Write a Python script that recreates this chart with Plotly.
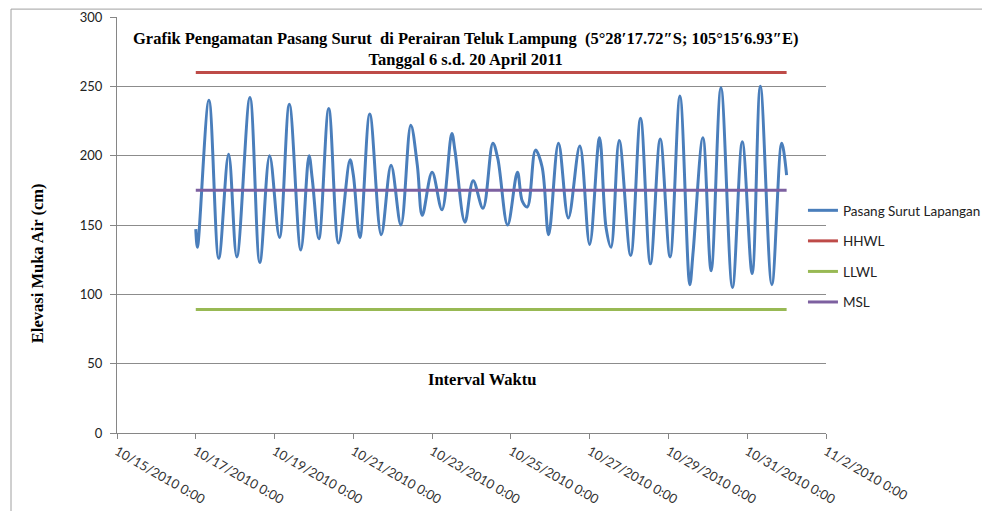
import pandas as pd
import plotly.graph_objects as go

# pengamatan pasang surut: jam sejak 10/17/2010 0:00 dan elevasi (cm), titik puncak/lembah
jam = [0, 1, 8, 14, 20, 25, 33, 39, 45, 51, 57, 64, 69, 71, 75, 81, 87, 94, 96, 100,
       106, 113, 119, 125, 131, 135, 138, 144, 150, 156, 158, 164, 169, 175, 181, 184,
       190, 196, 199, 202, 207, 211, 215, 221, 227, 234, 240, 246, 250, 253, 258, 265,
       271, 277, 283, 289, 295, 301, 303, 309, 314, 320, 327, 333, 339, 344, 351, 357, 360]
elevasi = [147, 134, 240, 126, 201, 127, 242, 123, 200, 141, 237, 132, 200, 183, 140, 234, 137, 197, 186, 141,
           230, 143, 193, 150, 222, 193, 157, 188, 161, 216, 203, 152, 182, 162, 209, 198,
           150, 188, 167, 163, 204, 192, 143, 209, 155, 207, 136, 213, 148, 134, 211, 128,
           227, 122, 212, 127, 243, 107, 130, 213, 117, 249, 105, 210, 115, 250, 107, 209, 186]

HHWL = 260
LLWL = 89
MSL = 175

mulai = pd.Timestamp('2010-10-17 00:00')
waktu = [mulai + pd.Timedelta(hours=h) for h in jam]
ujung = [waktu[0], waktu[-1]]

serif = 'Liberation Serif'
sans = 'Lato'

fig = go.Figure()
fig.add_trace(go.Scatter(x=waktu, y=elevasi, mode='lines', name='Pasang Surut Lapangan',
                         line=dict(color='#4A7EBB', width=3, shape='spline', smoothing=1.0),
                         legendgroup='a'))
fig.add_trace(go.Scatter(x=ujung, y=[HHWL, HHWL], mode='lines', name='HHWL',
                         line=dict(color='#BE4B48', width=3), legendgroup='b'))
fig.add_trace(go.Scatter(x=ujung, y=[LLWL, LLWL], mode='lines', name='LLWL',
                         line=dict(color='#98B954', width=3), legendgroup='c'))
fig.add_trace(go.Scatter(x=ujung, y=[MSL, MSL], mode='lines', name='MSL',
                         line=dict(color='#7D60A0', width=3), legendgroup='d'))

fig.update_layout(
    width=974, height=503,
    margin=dict(l=109, r=156, t=9, b=78, autoexpand=False),
    paper_bgcolor='white', plot_bgcolor='white',
    font=dict(family=sans, size=13, color='#222222'),
    showlegend=True,
    legend=dict(x=0.9675, y=0.572, xanchor='left', yanchor='top',
                font=dict(family=sans, size=13.5, color='#222222'),
                traceorder='grouped', tracegroupgap=10,
                bgcolor='rgba(0,0,0,0)'),
    xaxis=dict(range=['2010-10-15', '2010-11-02'], type='date',
               tick0='2010-10-15', dtick=2 * 86400000,
               tickformat='%-m/%-d/%Y %-H:%M', tickangle=30,
               ticks='outside', ticklen=5, tickcolor='#868686',
               showline=True, linecolor='#868686', linewidth=1,
               showgrid=False, zeroline=False, automargin=False,
               tickfont=dict(family=sans, size=13, color='#333333')),
    yaxis=dict(range=[0, 300], dtick=50,
               ticks='outside', ticklen=6, tickcolor='#868686',
               showline=True, linecolor='#868686', linewidth=1,
               showgrid=True, gridcolor='#8C8C8C', gridwidth=1, zeroline=False,
               ticklabelstandoff=5, automargin=False,
               tickfont=dict(family=sans, size=13, color='#222222')),
    annotations=[
        dict(text='<b>Grafik Pengamatan Pasang Surut  di Perairan Teluk Lampung  (5°28′17.72″S; 105°15′6.93″E)</b>'
                  '<br><b>Tanggal 6 s.d. 20 April 2011</b>',
             xref='paper', yref='paper', x=0.491, y=0.977, xanchor='center', yanchor='top',
             showarrow=False, font=dict(family=serif, size=16.5, color='black')),
        dict(text='<b>Interval Waktu</b>', xref='paper', yref='paper', x=0.515, y=0.129,
             xanchor='center', yanchor='middle', showarrow=False,
             font=dict(family=serif, size=16.5, color='black')),
        dict(text='<b>Elevasi Muka Air (cm)</b>', xref='paper', yref='paper', x=-0.113, y=0.408,
             xanchor='center', yanchor='middle', textangle=-90, showarrow=False,
             font=dict(family=serif, size=16.5, color='black')),
    ],
    shapes=[
        dict(type='rect', xref='paper', yref='paper', x0=-0.1495, x1=1.25, y0=-0.25, y1=1.019,
             line=dict(color='#A0A0A0', width=1), layer='below'),
    ],
)

fig.write_html('out.html')
